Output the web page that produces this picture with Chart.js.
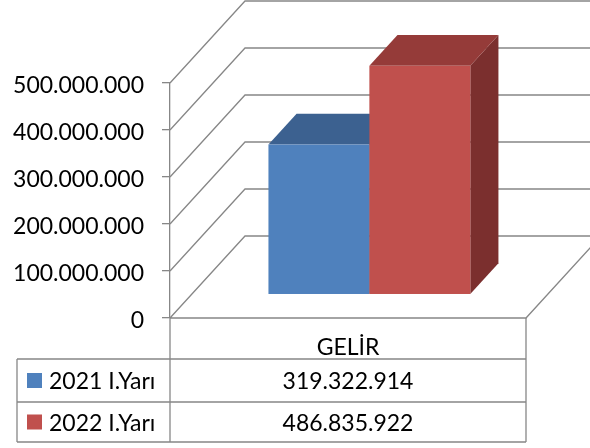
<!DOCTYPE html>
<html>
<head>
<meta charset="utf-8">
<script src="https://cdn.jsdelivr.net/npm/chart.js@4"></script>
<style>
  html,body{margin:0;padding:0;background:#fff;}
  #wrap{width:590px;height:448px;}
</style>
</head>
<body>
<div id="wrap"><canvas id="chart" width="590" height="448"></canvas></div>
<script>
// ===== Data =====
const categories = ["GELİR"];
const seriesNames = ["2021 I.Yarı", "2022 I.Yarı"];
const values2021 = [319322914];
const values2022 = [486835922];
const yTicks = [0, 100000000, 200000000, 300000000, 400000000, 500000000];

// ===== Style =====
const FONT = "Lato, 'Open Sans', sans-serif";
const gridColor = "#878787";
const faces = [
  {front:"#4F81BD", top:"#3C6190", side:"#345580"},
  {front:"#C0504D", top:"#953B39", side:"#7B2F2E"}
];
const wall = {dx:75, dy:-82};          // depth of the 3D box
const barDepth = {front:0.285, back:0.66};
const table = {left:17, headBottom:359, row1:402, row2:442};

function fmt(v){ return String(v).replace(/\B(?=(\d{3})+(?!\d))/g, "."); }

// ===== 3D walls, bars, data table =====
const threeD = {
  id:"threeD",
  beforeDatasetsDraw(chart){
    const {ctx, chartArea:a, scales:{y}} = chart;
    ctx.save();
    ctx.strokeStyle = gridColor; ctx.lineWidth = 1.3;
    ctx.beginPath();
    yTicks.forEach(v=>{
      const py = y.getPixelForValue(v);
      ctx.moveTo(a.left, py);
      ctx.lineTo(a.left+wall.dx, py+wall.dy);
      ctx.lineTo(chart.width+5, py+wall.dy);
    });
    ctx.moveTo(a.left, a.bottom);
    ctx.lineTo(a.right, a.bottom);
    ctx.lineTo(a.right+wall.dx, a.bottom+wall.dy);
    ctx.stroke();
    ctx.restore();
  },
  beforeDatasetDraw(){ return false; },
  afterDatasetsDraw(chart){
    const ctx = chart.ctx;
    const fx = wall.dx*barDepth.front, fy = wall.dy*barDepth.front;
    const bx = wall.dx*barDepth.back,  by = wall.dy*barDepth.back;
    ctx.save();
    chart.data.datasets.forEach((ds,i)=>{
      const c = faces[i];
      chart.getDatasetMeta(i).data.forEach(el=>{
        const p = el.getProps(["x","y","base","width"], true);
        const l = p.x-p.width/2, r = p.x+p.width/2, t = p.y, b = p.base;
        // side
        ctx.fillStyle = c.side;
        ctx.beginPath();
        ctx.moveTo(r+fx, t+fy); ctx.lineTo(r+bx, t+by);
        ctx.lineTo(r+bx, b+by); ctx.lineTo(r+fx, b+fy);
        ctx.closePath(); ctx.fill();
        // top
        ctx.fillStyle = c.top;
        ctx.beginPath();
        ctx.moveTo(l+fx, t+fy); ctx.lineTo(r+fx, t+fy);
        ctx.lineTo(r+bx, t+by); ctx.lineTo(l+bx, t+by);
        ctx.closePath(); ctx.fill();
        // front
        ctx.fillStyle = c.front;
        ctx.fillRect(l+fx, t+fy, r-l, b-t);
      });
    });
    ctx.restore();
  },
  afterDraw(chart){
    const {ctx, chartArea:a, scales:{x}} = chart;
    ctx.save();
    ctx.strokeStyle = gridColor; ctx.lineWidth = 1.3;
    ctx.beginPath();
    ctx.moveTo(a.left, a.bottom); ctx.lineTo(a.left, table.row2);
    ctx.moveTo(a.right, a.bottom); ctx.lineTo(a.right, table.row2);
    ctx.moveTo(table.left, table.headBottom); ctx.lineTo(table.left, table.row2);
    [table.headBottom, table.row1, table.row2].forEach(py=>{
      ctx.moveTo(table.left, py); ctx.lineTo(a.right, py);
    });
    ctx.stroke();

    ctx.fillStyle = "#000";
    ctx.font = "23px " + FONT;
    ctx.textBaseline = "middle";
    ctx.textAlign = "center";
    categories.forEach((cat,ci)=>{
      const cx = x.getPixelForValue(ci);
      ctx.fillText(cat, cx, 348);
    });
    const rows = [[table.headBottom, table.row1], [table.row1, table.row2]];
    chart.data.datasets.forEach((ds,i)=>{
      const cy = (rows[i][0]+rows[i][1])/2;
      ctx.fillStyle = faces[i].front;
      ctx.fillRect(27, cy-7.5, 15, 15);
      ctx.fillStyle = "#000";
      ctx.textAlign = "left";
      ctx.fillText(ds.label, 49, cy+1.5);
      ctx.textAlign = "center";
      ds.data.forEach((v,ci)=>{
        ctx.fillText(fmt(v), x.getPixelForValue(ci), cy+1.5);
      });
    });
    ctx.restore();
  }
};

new Chart(document.getElementById("chart"), {
  type:"bar",
  data:{
    labels:categories,
    datasets:[
      {label:seriesNames[0], data:values2021, backgroundColor:faces[0].front},
      {label:seriesNames[1], data:values2022, backgroundColor:faces[1].front}
    ]
  },
  options:{
    responsive:false,
    animation:false,
    devicePixelRatio:1,
    categoryPercentage:0.567,
    barPercentage:1,
    layout:{padding:{left:0, right:64, top:83, bottom:130}},
    plugins:{legend:{display:false}, tooltip:{enabled:false}},
    scales:{
      x:{display:false},
      y:{
        min:0, max:500000000,
        afterFit(s){ s.width = 170; },
        afterBuildTicks(s){ s.ticks = yTicks.map(v=>({value:v})); },
        ticks:{color:"#000", padding:18, labelOffset:3, font:{family:FONT, size:23}, callback:v=>fmt(v)},
        grid:{drawOnChartArea:false, drawTicks:true, tickLength:8, color:gridColor, lineWidth:1.3},
        border:{display:true, color:gridColor, width:1.3}
      }
    }
  },
  plugins:[threeD]
});
</script>
</body>
</html>
